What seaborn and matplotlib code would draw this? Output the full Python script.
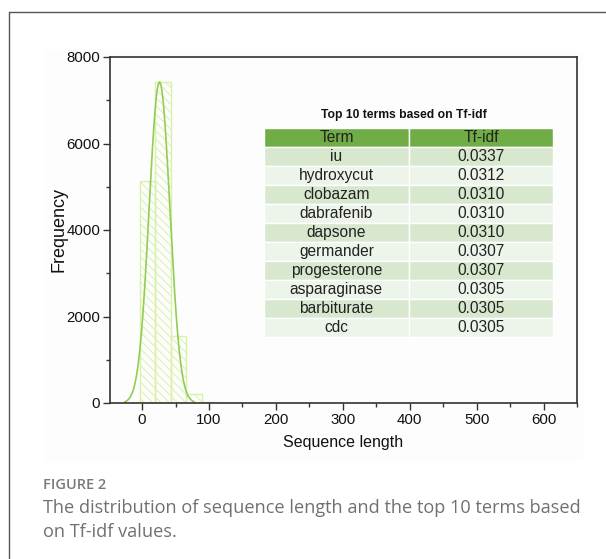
import numpy as np
import seaborn as sns
import matplotlib.pyplot as plt
import matplotlib.ticker as ticker
from matplotlib.lines import Line2D
from matplotlib.patches import Rectangle

# histogram of sequence length
bin_edges = [-3.4, 19.8, 43.0, 66.2, 89.4, 112.6]
bin_counts = [5140, 7415, 1550, 200, 20]
# gaussian fit drawn over the histogram
fit_mean = 26.0
fit_sd = 15.5
fit_peak = 7420
fit_range = (-26, 78)

# table of top terms
terms = ["iu", "hydroxycut", "clobazam", "dabrafenib", "dapsone",
         "germander", "progesterone", "asparaginase", "barbiturate", "cdc"]
tfidf = ["0.0337", "0.0312", "0.0310", "0.0310", "0.0310",
         "0.0307", "0.0307", "0.0305", "0.0305", "0.0305"]

x_ticks = [0, 100, 200, 300, 400, 500, 600]
y_ticks = [0, 2000, 4000, 6000, 8000]


def main():
    sns.set_theme(style="white")
    plt.rcParams["font.family"] = ["Liberation Sans", "DejaVu Sans"]
    plt.rcParams["hatch.linewidth"] = 0.7

    fig = plt.figure(figsize=(6.06, 5.59), dpi=100)
    fig.patch.set_facecolor("white")

    # card frame and faint image background
    fig.add_artist(Line2D([9 / 606, 1.0], [1 - 12 / 559, 1 - 12 / 559],
                          color="#555555", lw=1.0))
    fig.add_artist(Line2D([9 / 606, 9 / 606], [0, 1 - 12 / 559],
                          color="#555555", lw=1.0))
    fig.add_artist(Rectangle((45 / 606, 1 - 462 / 559), 538 / 606, 412 / 559,
                             facecolor="#fdfdfd", edgecolor="none", zorder=-1))

    ax = fig.add_axes([110 / 606, 1 - 403 / 559, 467 / 606, 346 / 559])
    ax.set_facecolor("#fdfdfd")

    centers = [(a + b) / 2 for a, b in zip(bin_edges[:-1], bin_edges[1:])]
    sns.histplot(x=centers, weights=bin_counts, bins=bin_edges, ax=ax,
                 fill=True, facecolor="none", edgecolor="#d8f2a8",
                 linewidth=1.0)
    for p in ax.patches:
        p.set_hatch("\\\\\\\\")

    xs = np.linspace(fit_range[0], fit_range[1], 200)
    ys = fit_peak * np.exp(-0.5 * ((xs - fit_mean) / fit_sd) ** 2)
    sns.lineplot(x=xs, y=ys, ax=ax, color="#93cc55", lw=1.2)

    ax.set_xlim(-48, 650)
    ax.set_ylim(0, 8000)
    ax.set_xticks(x_ticks)
    ax.set_yticks(y_ticks)
    ax.xaxis.set_minor_locator(ticker.MultipleLocator(50))
    ax.yaxis.set_minor_locator(ticker.MultipleLocator(1000))
    ax.tick_params(axis="both", which="major", direction="out", length=5,
                   width=1, color="#333333", labelsize=10.8, pad=2,
                   labelcolor="#111111")
    ax.tick_params(axis="both", which="minor", direction="out", length=3,
                   width=1, color="#333333")
    ax.tick_params(bottom=True, left=True, top=False, right=False,
                   which="both")
    for s in ax.spines.values():
        s.set_color("#333333")
        s.set_linewidth(1.2)
    ax.set_xlabel("Sequence length", fontsize=11.5, color="#111111",
                  labelpad=6)
    ax.set_ylabel("Frequency", fontsize=13, color="#111111", labelpad=-1)

    # table
    rows = [[t, v] for t, v in zip(terms, tfidf)]
    colors = [["#d7e8cf"] * 2 if i % 2 == 0 else ["#edf4ea"] * 2
              for i in range(len(rows))]
    tbl = ax.table(cellText=rows, colLabels=["Term", "Tf-idf"],
                   cellColours=colors, colColours=["#70ad47"] * 2,
                   cellLoc="center", bbox=[0.33, 0.191, 0.619, 0.604])
    tbl.auto_set_font_size(False)
    for (r, c), cell in tbl.get_celld().items():
        cell.set_edgecolor("white")
        cell.set_linewidth(1.0)
        cell.get_text().set_fontsize(11.2)
        cell.get_text().set_color("#222222")
    ax.text(0.629, 0.833, "Top 10 terms based on Tf-idf", transform=ax.transAxes,
            ha="center", va="center", fontsize=8.7, fontweight="bold",
            color="#111111")

    # caption
    fig.text(43 / 606, 1 - 485 / 559, "FIGURE 2", family="Open Sans",
             fontsize=10.5, color="#7a7a7a", va="center", fontweight="semibold")
    fig.text(43 / 606, 1 - 508 / 559,
             "The distribution of sequence length and the top 10 terms based",
             family="Open Sans", fontsize=13.1, color="#707070", va="center")
    fig.text(43 / 606, 1 - 532 / 559, "on Tf-idf values.",
             family="Open Sans", fontsize=13.1, color="#707070", va="center")

    fig.savefig("out.png", dpi=100)


if __name__ == "__main__":
    main()
